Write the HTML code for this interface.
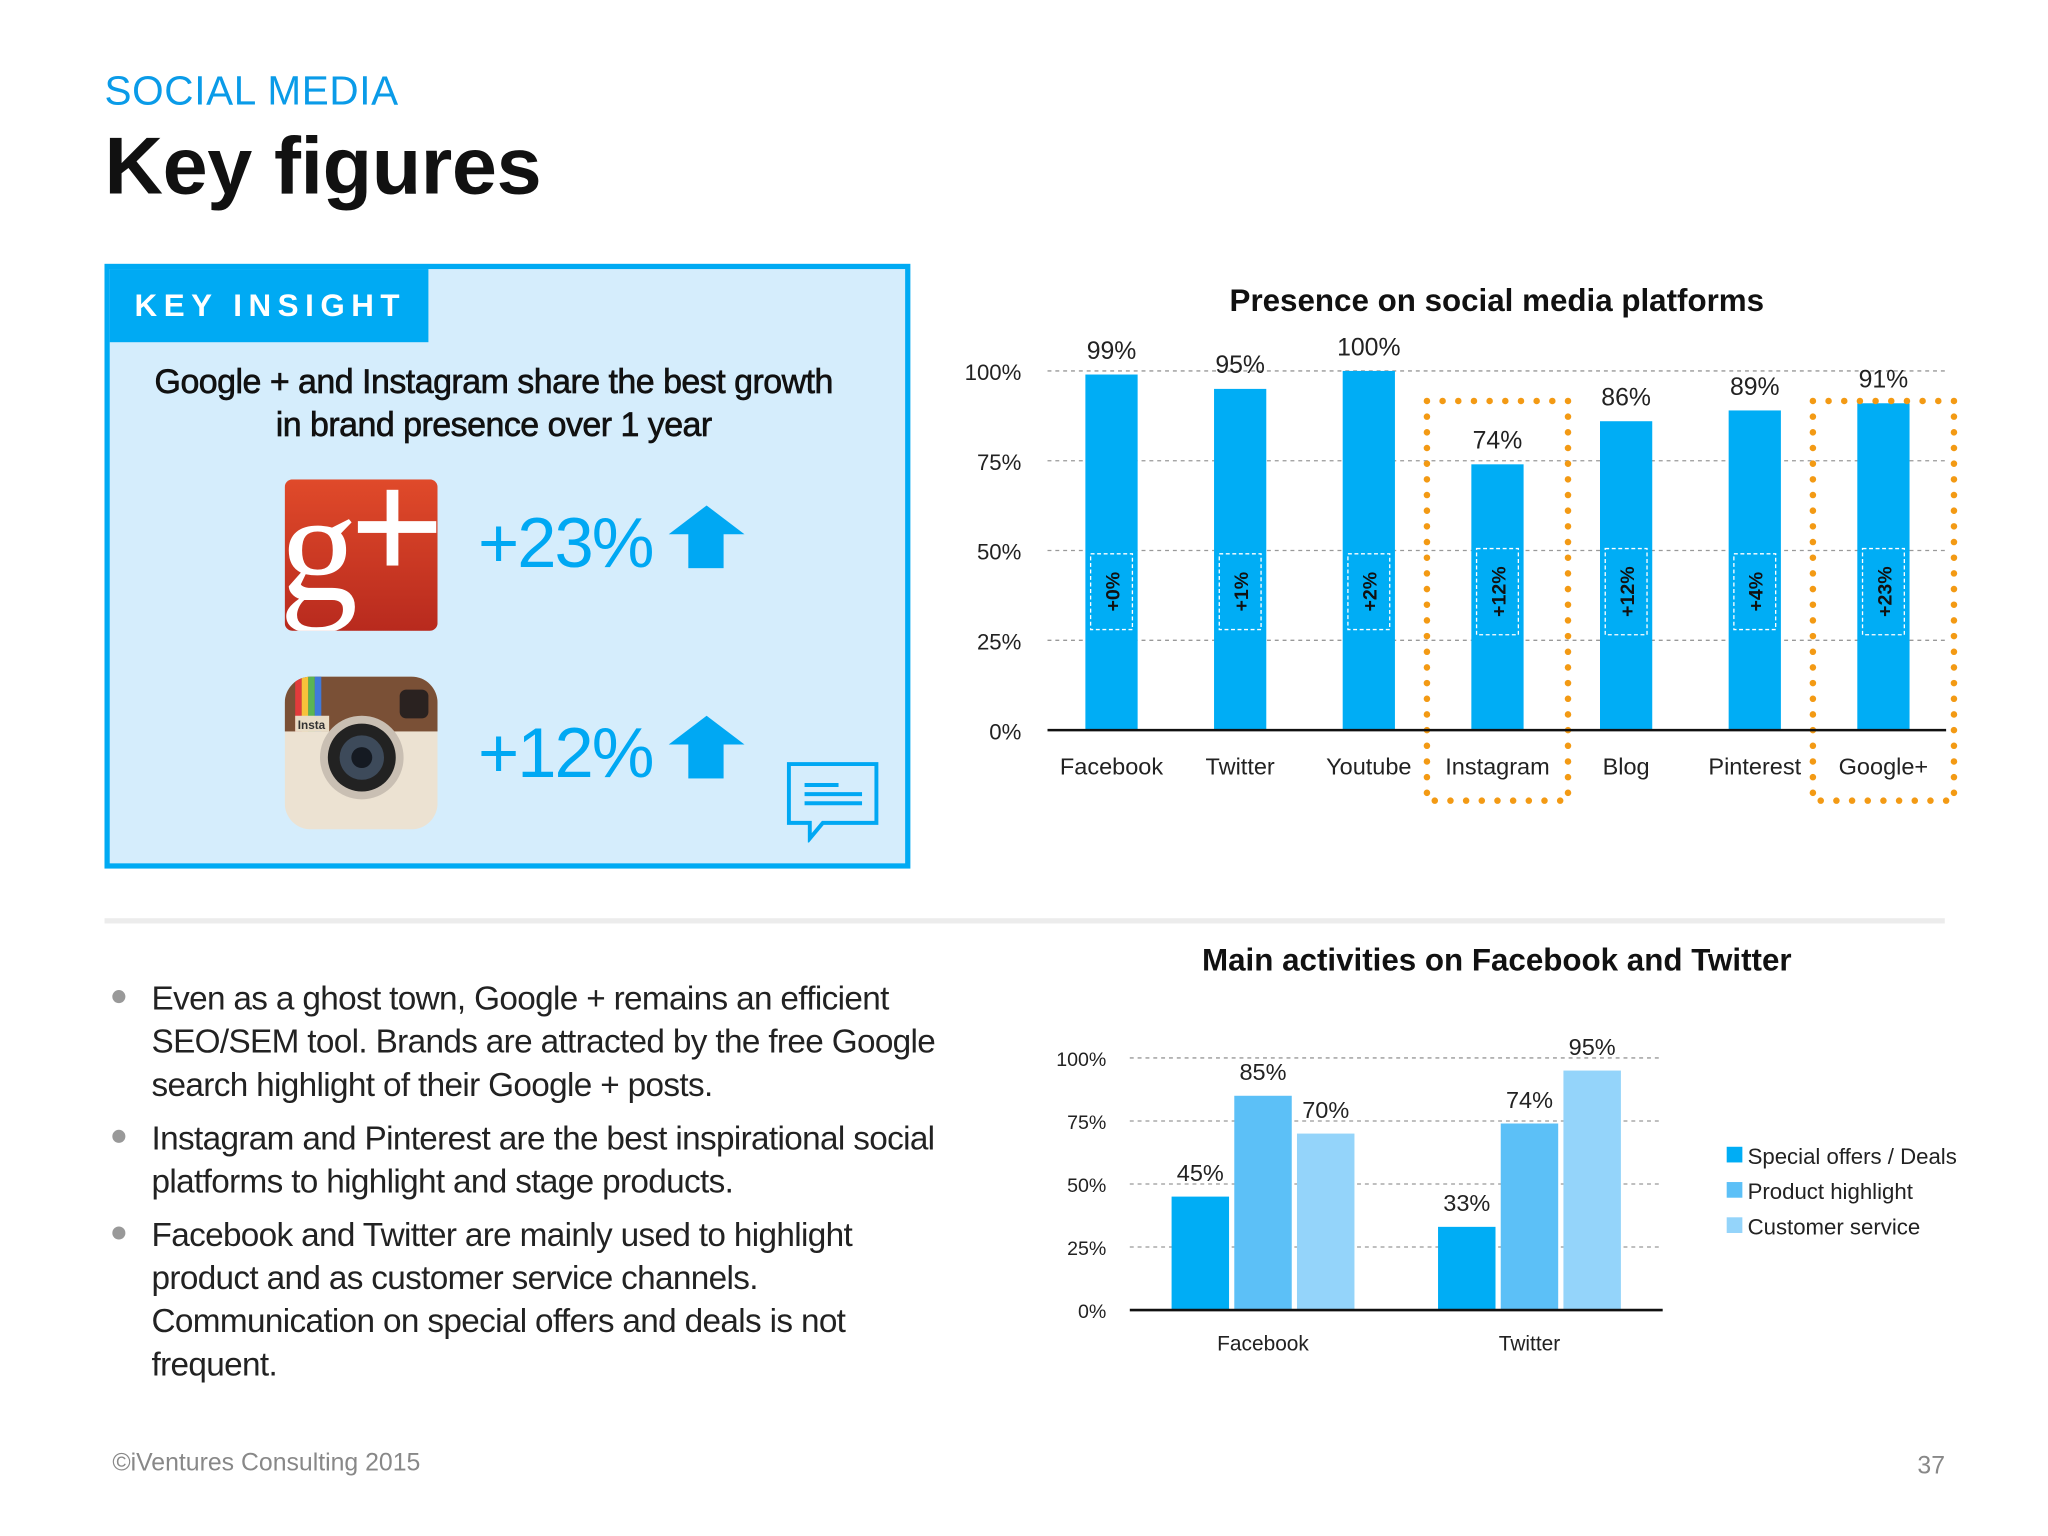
<!DOCTYPE html>
<html><head><meta charset="utf-8">
<style>
html,body{margin:0;padding:0;background:#fff;}
body{width:2048px;height:1536px;overflow:hidden;font-family:"Liberation Sans",sans-serif;}
#wrap{position:absolute;left:0;top:0;width:1568px;height:1176px;transform:scale(1.306122);transform-origin:0 0;}
.abs{position:absolute;}
</style></head><body>
<div id="wrap">
<div class="abs" style="left:80px;top:52px;font-size:31px;color:#0a9be8;letter-spacing:0.5px;">SOCIAL MEDIA</div>
<div class="abs" style="left:80px;top:92px;font-size:62px;font-weight:bold;color:#111;letter-spacing:-0.3px;">Key figures</div>

<div class="abs" style="left:80px;top:202px;width:609px;height:455px;border:4px solid #00aaf3;background:#d5edfc;"></div>
<div class="abs" style="left:84px;top:206px;width:244px;height:56px;background:#00aaf3;color:#fff;font-weight:bold;font-size:24px;letter-spacing:5px;line-height:58px;padding-left:19px;box-sizing:border-box;">KEY INSIGHT</div>
<div class="abs" style="left:70px;top:276px;width:616px;text-align:center;font-size:26px;line-height:33px;color:#111;letter-spacing:-0.4px;-webkit-text-stroke:0.5px #111;">Google + and Instagram share the best growth<br>in brand presence over 1 year</div>

<svg class="abs" style="left:218px;top:367px" width="117" height="116" viewBox="0 0 117 116">
<defs><linearGradient id="gg" x1="0" y1="0" x2="0" y2="1"><stop offset="0" stop-color="#e04a2a"/><stop offset="1" stop-color="#b82a1e"/></linearGradient></defs>
<rect width="117" height="116" rx="6" fill="url(#gg)"/>
<text x="-4" y="92" font-family="Liberation Serif,serif" font-size="120" fill="#fff">g</text>
<rect x="78" y="8" width="9" height="58" fill="#fff"/><rect x="56" y="32" width="60" height="9" fill="#fff"/>
</svg>
<svg class="abs" style="left:218px;top:518px" width="117" height="117" viewBox="0 0 117 117">
<defs><clipPath id="ic"><rect width="117" height="117" rx="20"/></clipPath></defs>
<g clip-path="url(#ic)">
<rect width="117" height="117" fill="#ece2d2"/><rect width="117" height="42" fill="#7a5036"/>
<rect x="8" y="0" width="5" height="42" fill="#e23b3b"/><rect x="13" y="0" width="5" height="42" fill="#f6c23a"/><rect x="18" y="0" width="5" height="42" fill="#5ab552"/><rect x="23" y="0" width="5" height="42" fill="#3f7ad9"/>
<rect x="8" y="30" width="26" height="12" fill="#e8dcc6"/><text x="10" y="40" font-size="9" font-weight="bold" fill="#333">Insta</text>
<rect x="88" y="10" width="22" height="22" rx="5" fill="#2a2220"/>
<circle cx="59" cy="62" r="32" fill="#c9bfb3"/><circle cx="59" cy="62" r="26" fill="#222"/><circle cx="59" cy="62" r="17" fill="#3d4a5a"/><circle cx="59" cy="62" r="8" fill="#151a22"/>
</g></svg>

<div class="abs" style="left:366px;top:385px;font-size:54px;color:#00a8f3;letter-spacing:-1.5px;">+23%</div>
<div class="abs" style="left:512px;top:387px;width:0;height:0;border-left:29px solid transparent;border-right:29px solid transparent;border-bottom:22px solid #00a8f3;"></div>
<div class="abs" style="left:527px;top:408px;width:27px;height:27px;background:#00a8f3;"></div>
<div class="abs" style="left:366px;top:546px;font-size:54px;color:#00a8f3;letter-spacing:-1.5px;">+12%</div>
<div class="abs" style="left:512px;top:548px;width:0;height:0;border-left:29px solid transparent;border-right:29px solid transparent;border-bottom:22px solid #00a8f3;"></div>
<div class="abs" style="left:527px;top:569px;width:27px;height:27px;background:#00a8f3;"></div>
<svg class="abs" style="left:602px;top:583px" width="72" height="62" viewBox="0 0 72 62">
<path d="M2 2H69V47H28L18 59V47H2Z" fill="none" stroke="#00a8f3" stroke-width="3"/>
<line x1="14" y1="18" x2="40" y2="18" stroke="#00a8f3" stroke-width="3"/><line x1="14" y1="25" x2="58" y2="25" stroke="#00a8f3" stroke-width="3"/><line x1="14" y1="32" x2="58" y2="32" stroke="#00a8f3" stroke-width="3"/>
</svg>

<div class="abs" style="left:80px;top:703px;width:1409px;height:4px;background:#ececec;"></div>

<div class="abs" style="left:86px;top:749px;width:720px;font-size:25.5px;line-height:33px;color:#222;letter-spacing:-0.5px;white-space:nowrap;">
<div style="position:relative;padding-left:30px;margin-bottom:8px;"><span style="position:absolute;left:0;top:9px;width:10px;height:10px;border-radius:5px;background:#999;"></span>Even as a ghost town, Google + remains an efficient<br>SEO/SEM tool. Brands are attracted by the free Google<br>search highlight of their Google + posts.</div>
<div style="position:relative;padding-left:30px;margin-bottom:8px;"><span style="position:absolute;left:0;top:9px;width:10px;height:10px;border-radius:5px;background:#999;"></span>Instagram and Pinterest are the best inspirational social<br>platforms to highlight and stage products.</div>
<div style="position:relative;padding-left:30px;"><span style="position:absolute;left:0;top:9px;width:10px;height:10px;border-radius:5px;background:#999;"></span>Facebook and Twitter are mainly used to highlight<br>product and as customer service channels.<br>Communication on special offers and deals is not<br>frequent.</div>
</div>

<div class="abs" style="left:86px;top:1110px;font-size:19px;color:#888;">©iVentures Consulting 2015</div>
<div class="abs" style="left:1468px;top:1112px;font-size:19px;color:#888;">37</div>

<svg id="c1" class="abs" style="left:0;top:0" width="1568" height="700"></svg>
<svg id="c2" class="abs" style="left:0;top:700px" width="1568" height="400"></svg>
</div>
<script>
const platforms=["Facebook","Twitter","Youtube","Instagram","Blog","Pinterest","Google+"];
const presence=[99,95,100,74,86,89,91];
const growth=["+0%","+1%","+2%","+12%","+12%","+4%","+23%"];
const ticks1=[0,25,50,75,100];
const highlighted=["Instagram","Google+"];

const groups=["Facebook","Twitter"];
const seriesNames=["Special offers / Deals","Product highlight","Customer service"];
const specialOffers=[45,33];
const productHighlight=[85,74];
const customerService=[70,95];
const ticks2=[0,25,50,75,100];

const NS="http://www.w3.org/2000/svg";
function mk(p,t,a,txt){const e=document.createElementNS(NS,t);for(const k in a)e.setAttribute(k,a[k]);if(txt!==undefined)e.textContent=txt;p.appendChild(e);return e;}
const F="Liberation Sans, sans-serif";

const c1=document.getElementById('c1');
const y1=v=>559-v*2.75;
const x1=i=>851+i*98.5;
const tt=mk(c1,'text',{x:1146,y:238,'text-anchor':'middle','font-family':F,'font-size':24,'font-weight':'bold',fill:'#111'},'Presence on social media platforms');

ticks1.forEach(t=>{
  if(t>0){const g=mk(c1,'line',{x1:802,x2:1490,y1:y1(t),y2:y1(t),stroke:'#999','stroke-dasharray':'3,3','stroke-width':1});}
  const l=mk(c1,'text',{x:782,y:y1(t)+7,'text-anchor':'end','font-family':F,'font-size':17,fill:'#222'},t+'%');
  
});
presence.forEach((v,i)=>{
  const x=x1(i);
  const b=mk(c1,'rect',{x:x-20,y:y1(v),width:40,height:y1(0)-y1(v),fill:'#00adf5'});
  
  
  const vl=mk(c1,'text',{x:x,y:y1(v)-12,'text-anchor':'middle','font-family':F,'font-size':19,fill:'#222'},v+'%');
  
  const gl=growth[i].length>3?66:58;
  const r=mk(c1,'rect',{x:x-16,y:453-gl/2,width:32,height:gl,fill:'none',stroke:'#fff','stroke-dasharray':'3,2','stroke-width':1});
  
  const gt=mk(c1,'text',{x:0,y:0,transform:`translate(${x+6},453) rotate(-90)`,'text-anchor':'middle','font-family':F,'font-size':15,'font-weight':'bold',fill:'#111'},growth[i]);
  
  const xl=mk(c1,'text',{x:x,y:593,'text-anchor':'middle','font-family':F,'font-size':18,fill:'#222'},platforms[i]);
  
  if(highlighted.includes(platforms[i])){
    const h=mk(c1,'rect',{x:x-54,y:307,width:108,height:306,fill:'none',stroke:'#f39a14','stroke-width':5,'stroke-linecap':'round','stroke-dasharray':'0,12'});
    
  }
});
const ax=mk(c1,'line',{x1:802,x2:1490,y1:y1(0),y2:y1(0),stroke:'#111','stroke-width':2});


const c2=document.getElementById('c2');
const y2=v=>303-v*1.93;
const colors=["#00adf5","#5cc0f7","#94d4fa"];
const series=[specialOffers,productHighlight,customerService];
const gx=g=>967+g*204;
const t2=mk(c2,'text',{x:1146,y:43,'text-anchor':'middle','font-family':F,'font-size':24,'font-weight':'bold',fill:'#111'},'Main activities on Facebook and Twitter');

ticks2.forEach(t=>{
  if(t>0){const g=mk(c2,'line',{x1:865,x2:1273,y1:y2(t),y2:y2(t),stroke:'#999','stroke-dasharray':'3,3','stroke-width':1});}
  const l=mk(c2,'text',{x:847,y:y2(t)+6,'text-anchor':'end','font-family':F,'font-size':15,fill:'#222'},t+'%');
  
});
groups.forEach((gname,g)=>{
  series.forEach((s,k)=>{
    const x=gx(g)+(k-1)*48;
    const v=s[g];
    const b=mk(c2,'rect',{x:x-22,y:y2(v),width:44,height:y2(0)-y2(v),fill:colors[k]});
    
    
    const vl=mk(c2,'text',{x:x,y:y2(v)-12,'text-anchor':'middle','font-family':F,'font-size':18,fill:'#222'},v+'%');
    
  });
  const xl=mk(c2,'text',{x:gx(g),y:334,'text-anchor':'middle','font-family':F,'font-size':16,fill:'#222'},gname);
  
});
const ax2=mk(c2,'line',{x1:865,x2:1273,y1:y2(0),y2:y2(0),stroke:'#111','stroke-width':2});

seriesNames.forEach((n,k)=>{
  const sw=mk(c2,'rect',{x:1322,y:178+k*27,width:12,height:12,fill:colors[k]});
  
  const lt=mk(c2,'text',{x:1338,y:191+k*27,'font-family':F,'font-size':17,fill:'#222'},n);
  
});
</script>
</body></html>
